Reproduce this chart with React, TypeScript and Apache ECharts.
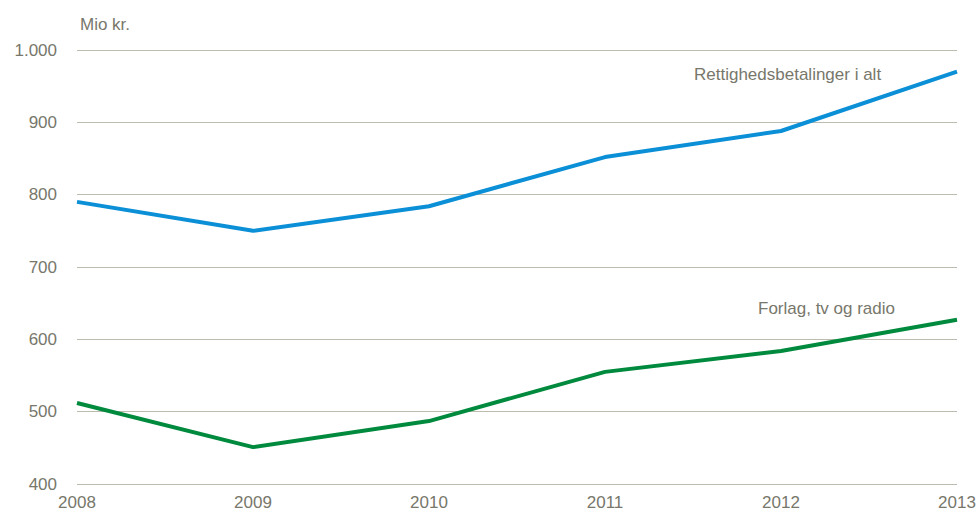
import React, { useEffect, useRef } from "react";
import * as echarts from "echarts";

const years = ["2008", "2009", "2010", "2011", "2012", "2013"];
const totalValues = [790, 750, 784, 852, 888, 970];
const publishingValues = [512, 451, 487, 555, 584, 627];
const unitLabel = "Mio kr.";
const totalName = "Rettighedsbetalinger i alt";
const publishingName = "Forlag, tv og radio";

const FONT = "'Liberation Sans Narrow', 'Arial Narrow', 'Liberation Sans', Arial, sans-serif";
const GRAY = "#77776b";

export default function App() {
  const ref = useRef<HTMLDivElement>(null);
  useEffect(() => {
    if (!ref.current) return;
    const chart = echarts.init(ref.current, null, { renderer: "svg" });
    chart.setOption({
      animation: false,
      grid: { left: 77, right: 22, top: 50, bottom: 34, containLabel: false },
      xAxis: {
        type: "category",
        data: years,
        boundaryGap: false,
        axisLine: { show: false },
        axisTick: { show: false },
        axisLabel: { color: GRAY, fontFamily: FONT, fontSize: 17, margin: 10 },
      },
      yAxis: {
        type: "value",
        min: 400,
        max: 1000,
        interval: 100,
        axisLine: { show: false },
        axisTick: { show: false },
        splitLine: { lineStyle: { color: "#bcbcae", width: 1 } },
        axisLabel: {
          color: GRAY,
          fontFamily: FONT,
          fontSize: 17,
          margin: 20,
          formatter: (v: number) => (v >= 1000 ? `${Math.floor(v / 1000)}.${String(v % 1000).padStart(3, "0")}` : String(v)),
        },
      },
      series: [
        {
          name: totalName,
          type: "line",
          data: totalValues,
          symbol: "none",
          lineStyle: { color: "#0b8fd6", width: 4 },
          endLabel: { show: false },
        },
        {
          name: publishingName,
          type: "line",
          data: publishingValues,
          symbol: "none",
          lineStyle: { color: "#008a3e", width: 4 },
        },
      ],
      graphic: [
        { type: "text", left: 80, top: 16, style: { text: unitLabel, fill: GRAY, font: `17px ${FONT}` } },
        { type: "text", left: 694, top: 66, style: { text: totalName, fill: GRAY, font: `17px ${FONT}` } },
        { type: "text", left: 758, top: 300, style: { text: publishingName, fill: GRAY, font: `17px ${FONT}` } },
      ],
    });
    return () => chart.dispose();
  }, []);
  return <div ref={ref} style={{ position: "absolute", left: 0, top: 0, width: 979, height: 518 }} />;
}
